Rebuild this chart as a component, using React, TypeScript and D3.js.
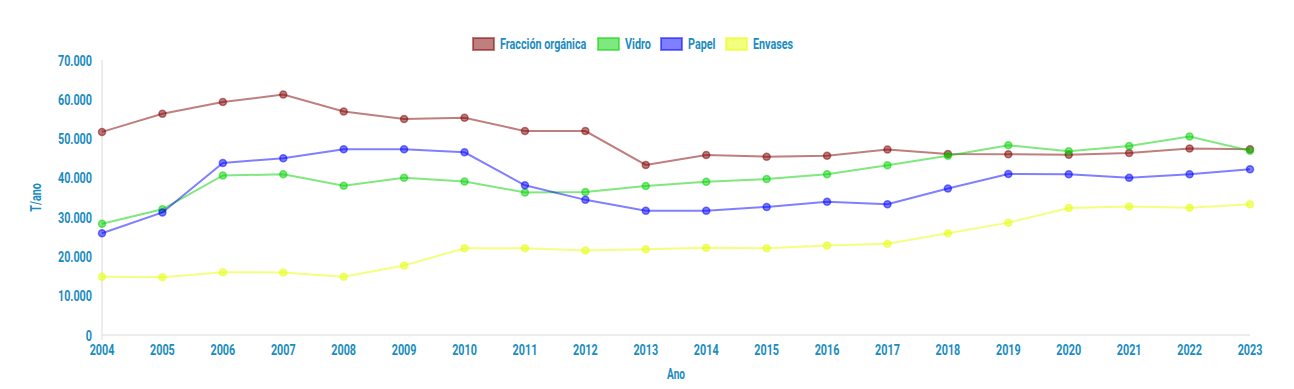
import React, { useEffect, useRef } from 'react';
import * as d3 from 'd3';

const years = ['2004', '2005', '2006', '2007', '2008', '2009', '2010', '2011', '2012', '2013', '2014', '2015', '2016', '2017', '2018', '2019', '2020', '2021', '2022', '2023'];

const organica = [51700, 56300, 59300, 61200, 56900, 55000, 55300, 51900, 51900, 43300, 45800, 45400, 45600, 47200, 46100, 46000, 45900, 46300, 47500, 47300];
const vidro = [28300, 32000, 40600, 40900, 38000, 40000, 39100, 36300, 36400, 37900, 39000, 39700, 40900, 43200, 45600, 48300, 46800, 48100, 50500, 46900];
const papel = [25900, 31200, 43800, 45000, 47300, 47300, 46500, 38100, 34400, 31600, 31600, 32600, 33900, 33300, 37300, 41000, 40900, 40000, 40900, 42200];
const envases = [14800, 14700, 16000, 15900, 14800, 17700, 22100, 22100, 21500, 21800, 22200, 22100, 22800, 23200, 25900, 28600, 32300, 32700, 32400, 33300];

const seriesNames = ['Fracción orgánica', 'Vidro', 'Papel', 'Envases'];
const seriesColors = ['rgba(128,0,0,0.5)', 'rgba(0,210,0,0.5)', 'rgba(0,0,255,0.5)', 'rgba(230,255,0,0.5)'];

const yTicks = [0, 10000, 20000, 30000, 40000, 50000, 60000, 70000];

const TEXT = '#1a8cc0';
const FONT = 'Roboto, sans-serif';
const SX = 0.72; // fake condensed face

export default function App() {
  const svgRef = useRef<SVGSVGElement | null>(null);

  useEffect(() => {
    const W = 1294, H = 389;
    const margin = { top: 60, right: 44, bottom: 54, left: 102 };
    const svg = d3.select(svgRef.current);
    svg.selectAll('*').remove();

    const x = d3.scalePoint<string>().domain(years).range([margin.left, W - margin.right]);
    const y = d3.scaleLinear().domain([0, 70000]).range([H - margin.bottom, margin.top]);
    const fmt = (v: number) => d3.format(',')(v).replace(/,/g, '.');

    // axes lines
    svg.append('line')
      .attr('x1', margin.left).attr('x2', margin.left)
      .attr('y1', y(70000)).attr('y2', y(0) + 5)
      .attr('stroke', '#e6e6e6').attr('stroke-width', 1.5);
    svg.append('line')
      .attr('x1', margin.left).attr('x2', W - margin.right)
      .attr('y1', y(0)).attr('y2', y(0))
      .attr('stroke', '#e6e6e6').attr('stroke-width', 1.5);

    const txt = svg.append('g')
      .attr('font-family', FONT).attr('font-weight', 'bold')
      .attr('fill', TEXT).attr('font-size', 15);

    const label = (tx: number, ty: number, s: string, anchor = 'start', size = 15, rot = 0) =>
      txt.append('text')
        .attr('transform', `translate(${tx},${ty}) rotate(${rot}) scale(${SX},1)`)
        .attr('text-anchor', anchor)
        .attr('font-size', size)
        .text(s);

    yTicks.forEach(d => label(margin.left - 10, y(d) + 5.5, fmt(d), 'end'));
    years.forEach(d => label(x(d)!, y(0) + 20, d, 'middle'));

    label(41, (y(0) + y(70000)) / 2, 'T/ano', 'middle', 15, -90);
    label(676, 379, 'Ano', 'middle', 14);

    const data = [organica, vidro, papel, envases];
    const line = d3.line<number>().x((_, i) => x(years[i])!).y(d => y(d));

    data.forEach((vals, si) => {
      const c = seriesColors[si];
      svg.append('path')
        .datum(vals)
        .attr('d', line)
        .attr('fill', 'none')
        .attr('stroke', c)
        .attr('stroke-width', 2);
      svg.append('g').selectAll('circle').data(vals).enter().append('circle')
        .attr('cx', (_, i) => x(years[i])!)
        .attr('cy', d => y(d))
        .attr('r', 3.5)
        .attr('fill', c)
        .attr('stroke', c)
        .attr('stroke-width', 1.5);
    });

    // legend
    const legendX = [472, 597, 660, 725];
    seriesNames.forEach((name, i) => {
      txt.append('rect')
        .attr('x', legendX[i] + 1).attr('y', 38)
        .attr('width', 21).attr('height', 12)
        .attr('fill', seriesColors[i])
        .attr('stroke', seriesColors[i])
        .attr('stroke-width', 2);
      label(legendX[i] + 28, 49, name, 'start', 15);
    });
  }, []);

  return (
    <div style={{ position: 'fixed', left: 0, top: 0, background: '#fff' }}>
      <svg ref={svgRef} width={1294} height={389}></svg>
    </div>
  );
}
